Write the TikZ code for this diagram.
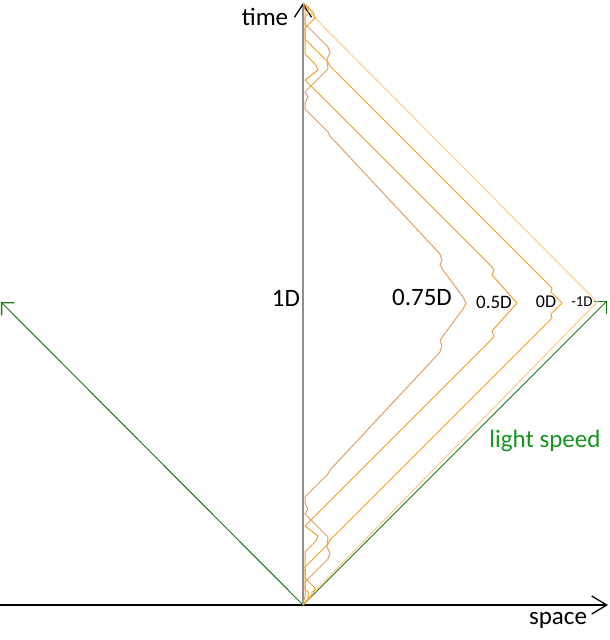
\documentclass[tikz,border=0pt]{standalone}
\usepackage{fontspec}
\setmainfont{Carlito}
\usetikzlibrary{arrows.meta}
\definecolor{cA}{HTML}{E0A068}
\definecolor{cB}{HTML}{EFA02C}
\definecolor{cC}{HTML}{F4A21C}
\definecolor{cD}{HTML}{FFCC88}
\definecolor{lgreen}{HTML}{1B7A1B}
\definecolor{tgreen}{HTML}{14961E}
\definecolor{axisgray}{HTML}{8E8E8E}
\begin{document}
\begin{tikzpicture}[x=1pt,y=-1pt,
  lbl/.style={font=\fontsize{25}{30}\selectfont, inner sep=0pt},
  curve/.style={line width=1pt, line join=round},
  barb/.style={-{Straight Barb[length=#1]}},
  ]
\useasboundingbox (0,0) rectangle (610,640);
\fill[white] (0,0) rectangle (610,640);

\coordinate (O) at (303,605);
\coordinate (T) at (303,3);
\coordinate (S0) at (0,605);
\coordinate (S1) at (608,605);
\coordinate (GL) at (1,302);
\coordinate (GR) at (607,301);

% axes
\draw[axisgray, line width=2.2pt, -{Straight Barb[length=13pt,width=17pt,color=black,line width=1.3pt]}] (O) -- (T);
\draw[black, line width=1.3pt, -{Straight Barb[length=15pt,width=18pt,line width=1.3pt]}] (S0) -- (S1);

% light speed lines
\draw[lgreen, line width=1pt, -{Straight Barb[length=9pt,width=18pt,line width=1.3pt]}] (O) -- (GL);
\draw[lgreen, line width=1pt, -{Straight Barb[length=9pt,width=18pt,line width=1.3pt]}] (O) -- (GR);

% -1D
\draw[cD, curve] (O) -- (310,597) -- (312,592) -- (318,588) -- (597,302)
  -- (318,21) -- (312,14) -- (310,9) -- (T);
% 0D
\draw[cC, curve] (O) -- (308,599) -- (308,592) -- (305,589) -- (305,567)
  -- (328,544) -- (330,540) -- (548,322) -- (552,318) -- (551,314) -- (562,303)
  -- (551,292) -- (552,288) -- (548,284) -- (330,66) -- (328,62) -- (305,39)
  -- (305,17) -- (308,14) -- (308,7) -- (T);
% 0.5D
\draw[cB, curve] (O) -- (313,594) -- (315,588) -- (305,578) -- (305,552)
  -- (316,541) -- (318,536) -- (305,526) -- (491,340) -- (494,336) -- (492,331)
  -- (517,303) -- (492,275) -- (494,270) -- (491,266) -- (305,80)
  -- (318,70) -- (316,65) -- (305,54) -- (305,28) -- (315,18) -- (313,12) -- (T);
% 0.75D
\draw[cA, curve] (O) -- (305,596) -- (305,582) -- (328,559) -- (330,553) -- (327,547)
  -- (328,537) -- (305,514) -- (308,509) -- (305,503) -- (305,497) -- (328,474)
  -- (330,470) -- (440,352) -- (442,346) -- (440,341) -- (443,336) -- (463,309)
  -- (466,303) -- (463,297) -- (443,270) -- (440,265) -- (442,260) -- (440,254)
  -- (330,136) -- (328,132) -- (305,109) -- (305,103) -- (308,97) -- (305,92)
  -- (328,69) -- (327,59) -- (330,53) -- (328,47) -- (305,24) -- (305,10) -- (T);

% labels
\node[lbl] (time) at (265,17) {time};
\node[lbl] (space) at (558,620) {space};
\node[lbl] (d1) at (286,298) {1D};
\node[lbl] (d075) at (422,297) {0.75D};
\node[lbl, font=\fontsize{19}{22}\selectfont] (d05) at (494,302) {0.5D};
\node[lbl, font=\fontsize{18}{21}\selectfont] (d0) at (546,302) {0D};
\node[lbl, font=\fontsize{15}{18}\selectfont] (dm1) at (582,301.5) {-1D};
\node[lbl, text=tgreen] (ls) at (545,441) {light speed};
\end{tikzpicture}
\end{document}
